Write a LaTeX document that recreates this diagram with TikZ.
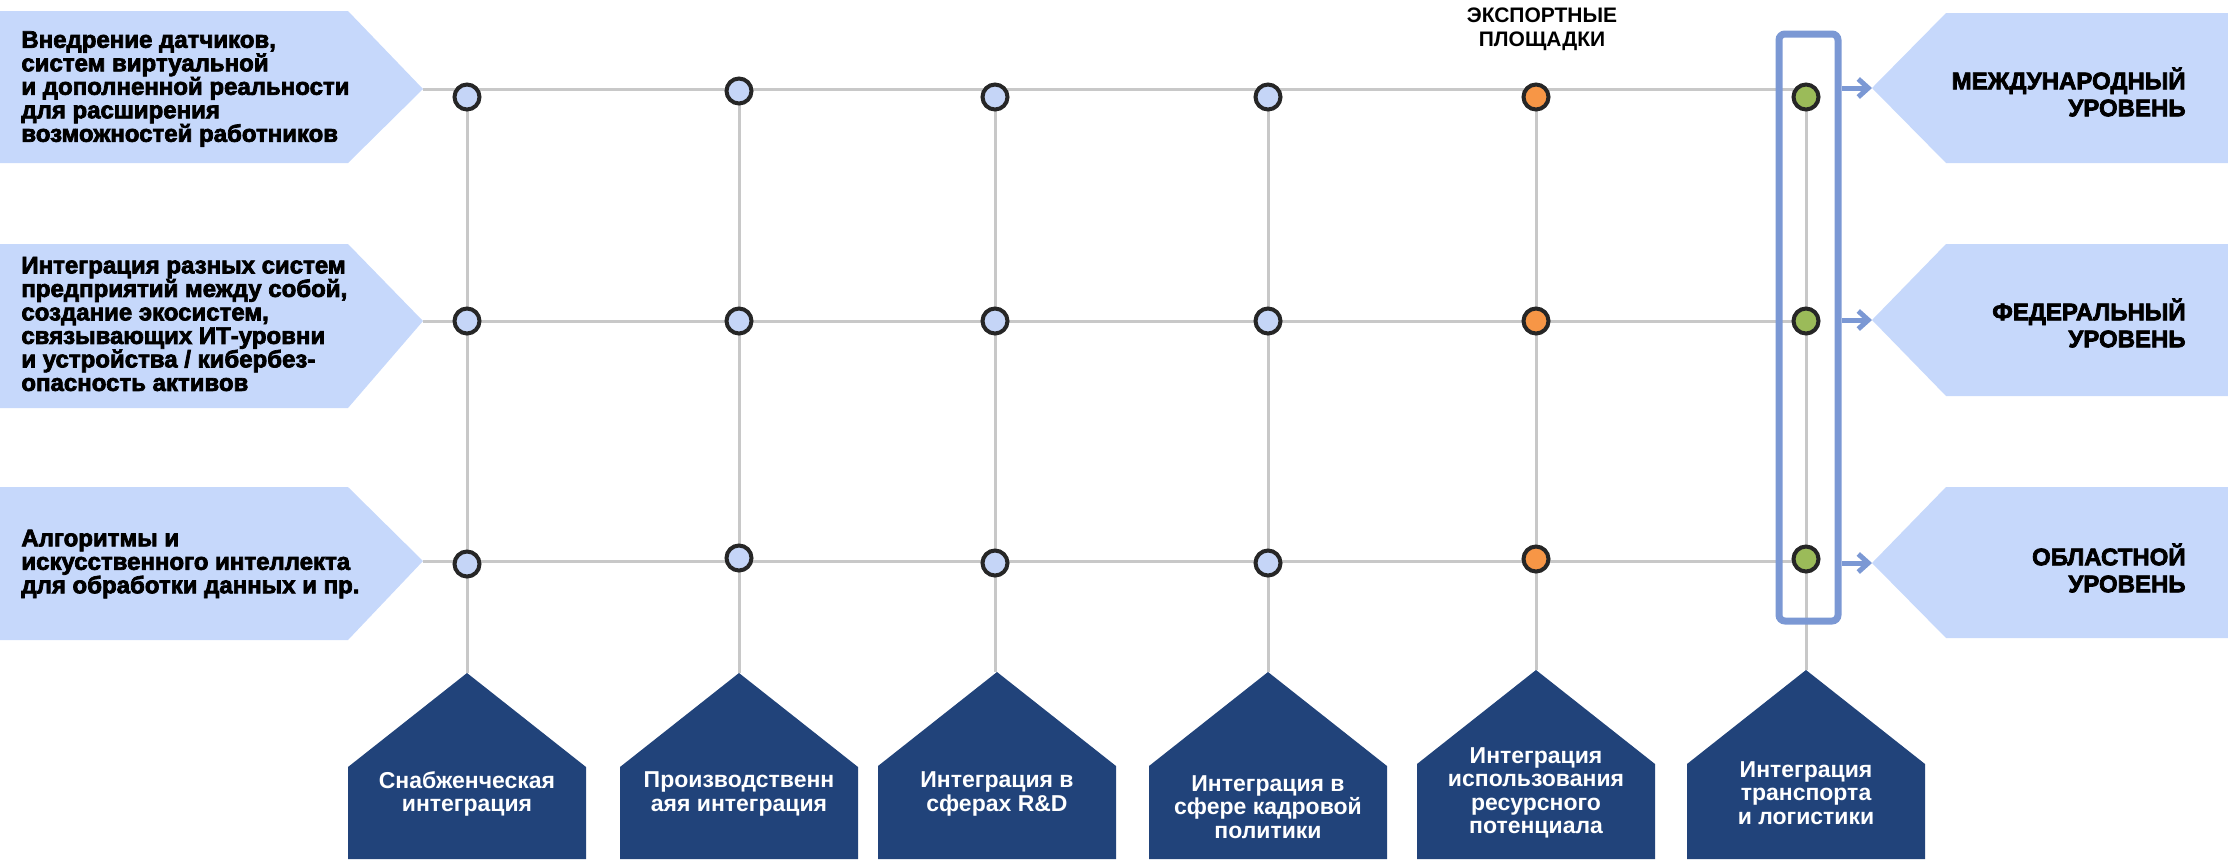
\documentclass[tikz,border=0pt]{standalone}
\usepackage{fontspec}
\setmainfont{Liberation Sans}
\newfontfamily\heavyfont[BoldFeatures={FakeBold=3}]{Liberation Sans}
\usetikzlibrary{arrows.meta,backgrounds}
\definecolor{lblue}{HTML}{C6D8FB}
\definecolor{dblue}{HTML}{21437A}
\definecolor{bblue}{HTML}{7B98D4}
\definecolor{gline}{HTML}{C8C8C8}
\definecolor{dotblue}{HTML}{C5D5F7}
\definecolor{dotorange}{HTML}{F79646}
\definecolor{dotgreen}{HTML}{9BBB59}
\definecolor{ring}{HTML}{262626}
\begin{document}
\begin{tikzpicture}[x=0.5pt,y=-0.5pt,
  dot/.style={circle,draw=ring,line width=2pt,minimum size=12.5pt,inner sep=0pt},
  bdot/.style={dot,fill=dotblue},
  odot/.style={dot,fill=dotorange},
  gdot/.style={dot,fill=dotgreen},
  gridline/.style={draw=gline,line width=1.5pt},
  lpent/.style={fill=lblue},
  house/.style={fill=dblue},
  lefttext/.style={anchor=west,align=left,inner sep=0pt,font=\heavyfont\bfseries\fontsize{12}{11.75}\selectfont},
  righttext/.style={anchor=east,align=right,inner sep=0pt,font=\heavyfont\bfseries\fontsize{12}{13.5}\selectfont},
  housetext/.style={align=center,text=white,inner sep=0pt,font=\bfseries\fontsize{11.5}{11.75}\selectfont},
  toptext/.style={align=center,inner sep=0pt,font=\bfseries\fontsize{10.5}{12}\selectfont},
  hlbox/.style={draw=bblue,line width=3.5pt,rounded corners=3pt},
  levelarrow/.style={draw=bblue,line width=2.5pt,-{Straight Barb[length=5pt,width=9pt]}},
]
\useasboundingbox (0,0) rectangle (2228,859);

% tips of arrow shapes and house peaks
\coordinate (L1tip) at (423,89);
\coordinate (L2tip) at (423,321);
\coordinate (L3tip) at (423,561);
\coordinate (R1tip) at (1872,88);
\coordinate (R2tip) at (1872,320);
\coordinate (R3tip) at (1872,563);
\coordinate (h1) at (467,673);
\coordinate (h2) at (739,673);
\coordinate (h3) at (997,672);
\coordinate (h4) at (1268,672);
\coordinate (h5) at (1536,670);
\coordinate (h6) at (1806,670);
\coordinate (boxR) at (1842,0);

% circles
\node[bdot] (c11) at (467,97) {};
\node[bdot] (c12) at (739,91) {};
\node[bdot] (c13) at (995,97) {};
\node[bdot] (c14) at (1268,97) {};
\node[odot] (c15) at (1536,97) {};
\node[gdot] (c16) at (1806,97) {};
\node[bdot] (c21) at (467,321) {};
\node[bdot] (c22) at (739,321) {};
\node[bdot] (c23) at (995,321) {};
\node[bdot] (c24) at (1268,321) {};
\node[odot] (c25) at (1536,321) {};
\node[gdot] (c26) at (1806,321) {};
\node[bdot] (c31) at (467,564) {};
\node[bdot] (c32) at (739,558) {};
\node[bdot] (c33) at (995,563) {};
\node[bdot] (c34) at (1268,563) {};
\node[odot] (c35) at (1536,559) {};
\node[gdot] (c36) at (1806,559) {};

\begin{scope}[on background layer]
  % left arrow shapes
  \fill[lpent] (0,11) -- (348,11) -- (L1tip) -- (348,163) -- (0,163) -- cycle;
  \fill[lpent] (0,244) -- (348,244) -- (L2tip) -- (348,408) -- (0,408) -- cycle;
  \fill[lpent] (0,487) -- (348,487) -- (L3tip) -- (348,640) -- (0,640) -- cycle;
  % right arrow shapes
  \fill[lpent] (2228,13) -- (1946,13) -- (R1tip) -- (1946,163) -- (2228,163) -- cycle;
  \fill[lpent] (2228,244) -- (1946,244) -- (R2tip) -- (1946,396) -- (2228,396) -- cycle;
  \fill[lpent] (2228,487) -- (1946,487) -- (R3tip) -- (1946,638) -- (2228,638) -- cycle;
  % houses
  \foreach \h in {h1,h2,h3,h4,h5,h6}{
    \fill[house] ([xshift=-59.5pt]\h |- 0,859) -- ([xshift=-59.5pt,yshift=-47pt]\h) -- (\h)
      -- ([xshift=59.5pt,yshift=-47pt]\h) -- ([xshift=59.5pt]\h |- 0,859) -- cycle;
  }
  % grid
  \draw[gridline] (L1tip) -- (c16 |- L1tip);
  \draw[gridline] (L2tip) -- (c26 |- L2tip);
  \draw[gridline] (L3tip) -- (c36 |- L3tip);
  \draw[gridline] (c11.center) -- (c11.center |- h1);
  \draw[gridline] (c12.center) -- (c12.center |- h2);
  \draw[gridline] (c13.center) -- (c13.center |- h3);
  \draw[gridline] (c14.center) -- (c14.center |- h4);
  \draw[gridline] (c15.center) -- (c15.center |- h5);
  \draw[gridline] (c16.center) -- (c16.center |- h6);
\end{scope}

% highlight box and arrows
\draw[hlbox] (1779,34) rectangle (1838,621);
\draw[levelarrow] (boxR |- R1tip) -- (R1tip);
\draw[levelarrow] (boxR |- R2tip) -- (R2tip);
\draw[levelarrow] (boxR |- R3tip) -- (R3tip);

% texts
\node[lefttext] (lt1) at (21,89) {Внедрение датчиков,\\систем виртуальной\\и дополненной реальности\\для расширения\\возможностей работников};
\node[lefttext] (lt2) at (21,324) {Интеграция разных систем\\предприятий между собой,\\создание экосистем,\\связывающих ИТ-уровни\\и устройства / кибербез-\\опасность активов};
\node[lefttext] (lt3) at (21,564) {Алгоритмы и\\искусственного интеллекта\\для обработки данных и пр.};

\node[righttext] (rt1) at (2186,92) {МЕЖДУНАРОДНЫЙ\\УРОВЕНЬ};
\node[righttext] (rt2) at (2186,323) {ФЕДЕРАЛЬНЫЙ\\УРОВЕНЬ};
\node[righttext] (rt3) at (2186,568) {ОБЛАСТНОЙ\\УРОВЕНЬ};

\node[toptext] (export) at (1542,29) {ЭКСПОРТНЫЕ\\ПЛОЩАДКИ};

\node[housetext] (ht1) at (467,794) {Снабженческая\\интеграция};
\node[housetext] (ht2) at (739,794) {Производственн\\аяя интеграция};
\node[housetext] (ht3) at (997,794) {Интеграция в\\сферах R\&D};
\node[housetext] (ht4) at (1268,807) {Интеграция в\\сфере кадровой\\политики};
\node[housetext] (ht5) at (1536,793) {Интеграция\\использования\\ресурсного\\потенциала};
\node[housetext] (ht6) at (1806,793) {Интеграция\\транспорта\\и логистики};
\end{tikzpicture}
\end{document}
